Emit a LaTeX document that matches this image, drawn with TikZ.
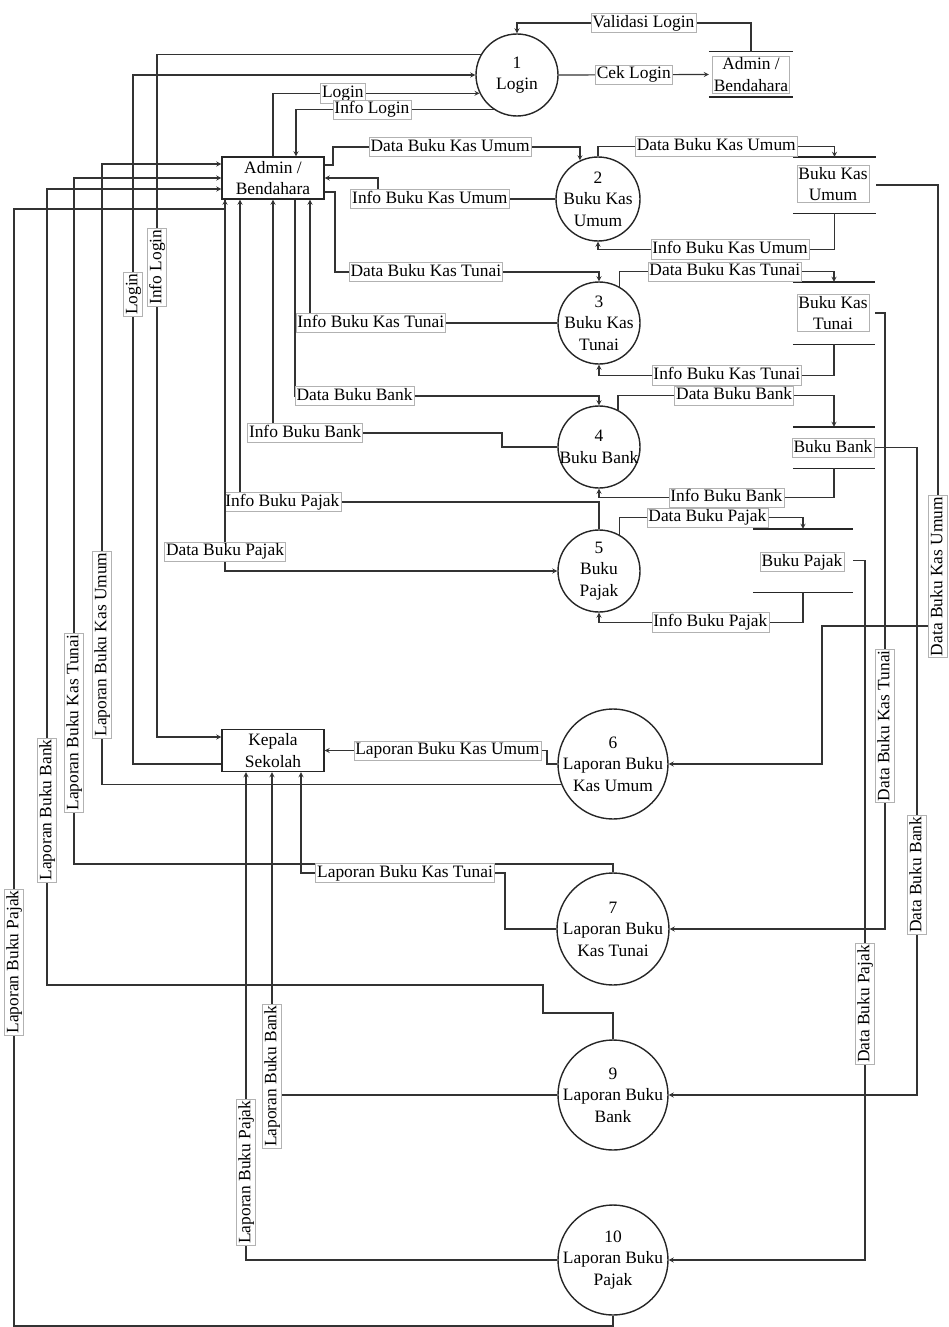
\documentclass[tikz,border=0pt]{standalone}
\usepackage{fontspec}
\setmainfont{Liberation Serif}
\usepackage{tikz}
\usetikzlibrary{shapes.geometric, arrows, positioning, calc}

\begin{document}
\begin{tikzpicture}[x=1pt, y=-1pt,
    font=\fontsize{17.4}{21.5}\selectfont,
    proc/.style={circle, draw=black!85, line width=1.4pt, fill=white, align=center, inner sep=-8pt, minimum size=#1},
    ent/.style={rectangle, draw=black!85, line width=1.4pt, fill=white, align=center, minimum width=102, minimum height=42, inner sep=0pt},
    store/.style={rectangle, inner sep=0pt},
    lbl/.style={fill=white, draw=black!30, line width=0.5pt, inner sep=1.5pt},
    fl/.style={lbl, text height=12.3pt, text depth=3.8pt},
    vfl/.style={fl, rotate=90},
    flow/.style={->, >=stealth, line width=1.2pt, draw=black!80}
]
    \useasboundingbox (0,0) rectangle (948,1327);

    % external entities
    \node[ent] (Adm) at (273,178) {Admin /\\Bendahara};
    \node[ent] (Kep) at (273,750.5) {Kepala\\Sekolah};

    % processes
    \node[proc=82] (P1) at (517,75) {1\\Login};
    \node[proc=84] (P2) at (598,199) {2\\Buku Kas\\Umum};
    \node[proc=82] (P3) at (599,323) {3\\Buku Kas\\Tunai};
    \node[proc=82] (P4) at (599,447) {4\\Buku Bank};
    \node[proc=82] (P5) at (599,571) {5\\Buku\\Pajak};
    \node[proc=110] (P6) at (613,764) {6\\Laporan Buku\\Kas Umum};
    \node[proc=112] (P7) at (613,929) {7\\Laporan Buku\\Kas Tunai};
    \node[proc=110] (P9) at (613,1095) {9\\Laporan Buku\\Bank};
    \node[proc=110] (P10) at (613,1260) {10\\Laporan Buku\\Pajak};

    % data stores
    \node[store, minimum width=84, minimum height=45] (stA) at (751,74.5) {};
    \node[store, minimum width=83, minimum height=56] (stKU) at (834.5,185) {};
    \node[store, minimum width=82, minimum height=62] (stKT) at (834,313) {};
    \node[store, minimum width=82, minimum height=41] (stBB) at (834,447.5) {};
    \node[store, minimum width=100, minimum height=63] (stBP) at (803,560.5) {};
    \foreach \s in {stA, stKU, stKT, stBB, stBP}
        \draw[line width=1.4pt, black!85] (\s.north west) -- (\s.north east) (\s.south west) -- (\s.south east);
    \node[lbl, align=center] (tA) at (stA) {Admin /\\Bendahara};
    \node[lbl, align=center] (tKU) at (833,184) {Buku Kas\\Umum};
    \node[lbl, align=center] (tKT) at (833,313) {Buku Kas\\Tunai};
    \node[fl] (tBB) at (833,448) {Buku Bank};
    \node[fl] (tBP) at (802,562) {Buku Pajak};

    % login
    \draw[flow] (stA.north) -- (751,23) -| node[fl, pos=0.23] {Validasi Login} (P1.north);
    \draw[flow] (P1.east) -- node[fl] {Cek Login} (stA.west);
    \draw[flow] ($(Kep.west)+(0,13.5)$) -- (133,764) |- node[vfl, pos=0.341] {Login} (P1.west);
    \draw[flow] (P1.150) -| node[vfl, pos=0.656] {Info Login} (157,737) -- ($(Kep.west)+(0,-13.5)$);
    \draw[flow] (Adm.north) |- node[fl, pos=0.669] {Login} (P1.206);
    \draw[flow] (P1.236) -| node[fl, pos=0.308] {Info Login} ($(Adm.north)+(23,0)$);

    % admin to processes
    \draw[flow] ($(Adm.east)+(0,-13)$) -| (333,147) -| node[fl, pos=0.237] {Data Buku Kas Umum} (P2.115);
    \draw[flow] (P2.west) -| node[fl, pos=0.354] {Info Buku Kas Umum} (378,178) -- (Adm.east);
    \draw[flow] ($(Adm.east)+(0,14)$) -| (335,272) -| node[fl, pos=0.172] {Data Buku Kas Tunai} (P3.north);
    \draw[flow] (P3.west) -| node[fl, pos=0.377] {Info Buku Kas Tunai} ($(Adm.south)+(37,0)$);
    \draw[flow] ($(Adm.south)+(22,0)$) |- node[fl, pos=0.598] {Data Buku Bank} (599,396) -- (P4.north);
    \draw[flow] (P4.west) -| (502,433) -| node[fl, pos=0.43] {Info Buku Bank} (Adm.south);
    \draw[flow] (P5.north) -- (599,502) -| node[fl, pos=0.441] {Info Buku Pajak} ($(Adm.south)+(-33,0)$);
    \draw[flow] ($(Adm.south)+(-48,0)$) |- node[fl, pos=0.474] {Data Buku Pajak} (P5.west);

    % reports to admin
    \draw[flow] (P6.202) -| node[vfl, pos=0.613] {Laporan Buku Kas Umum} (102,164) -- ($(Adm.west)+(0,-14)$);
    \draw[flow] (P7.north) -- (613,864) -| node[vfl, pos=0.603] {Laporan Buku Kas Tunai} (74,178) -- (Adm.west);
    \draw[flow] (P9.north) -- (613,1013) -| (543,985) -| node[vfl, pos=0.61] {Laporan Buku Bank} (47,189) -- ($(Adm.west)+(0,11)$);
    \draw[flow] (P10.south) -- (613,1326) -| node[vfl, pos=0.663] {Laporan Buku Pajak} (14,209) -| ($(Adm.south)+(-48,0)$);

    % reports to kepala sekolah
    \draw[flow] (P6.west) -| (547,750.5) -- node[fl, pos=0.448] {Laporan Buku Kas Umum} (Kep.east);
    \draw[flow] (P7.west) -| (505,873) -| node[fl, pos=0.245] {Laporan Buku Kas Tunai} ($(Kep.south)+(28,0)$);
    \draw[flow] (P9.west) -| node[vfl, pos=0.529] {Laporan Buku Bank} ($(Kep.south)+(-1,0)$);
    \draw[flow] (P10.west) -| node[vfl, pos=0.59] {Laporan Buku Pajak} ($(Kep.south)+(-27,0)$);

    % stores to reports
    \draw[flow] (stKU.east) -| node[vfl, pos=0.944] {Data Buku Kas Umum} (938,626) -| (822,764) -- (P6.east);
    \draw[flow] (stKT.east) -| node[vfl, pos=0.835] {Data Buku Kas Tunai} (885,929) -- (P7.east);
    \draw[flow] (stBB.east) -| node[vfl, pos=0.83] {Data Buku Bank} (917,1095) -- (P9.east);
    \draw[flow] (stBP.east) -| node[vfl, pos=0.817] {Data Buku Pajak} (865,1260) -- (P10.east);

    % processes and stores
    \draw[flow] (P2.north) -- ++(0,-10) -| node[fl, pos=0.25] {Data Buku Kas Umum} (stKU.north);
    \draw[flow] (stKU.south) -- ++(0,36) -| node[fl, pos=0.221] {Info Buku Kas Umum} (P2.south);
    \draw[flow] (P3.60) -- ++(0,-15.5) -| node[fl, pos=0.245] {Data Buku Kas Tunai} (stKT.north);
    \draw[flow] (stKT.south) -- ++(0,31) -| node[fl, pos=0.228] {Info Buku Kas Tunai} (P3.south);
    \draw[flow] (P4.63) -- ++(0,-14.5) -| node[fl, pos=0.269] {Data Buku Bank} (stBB.north);
    \draw[flow] (stBB.south) -- ++(0,29.5) -| node[fl, pos=0.229] {Info Buku Bank} (P4.south);
    \draw[flow] (P5.60) -- ++(0,-17.5) -| node[fl, pos=0.239] {Data Buku Pajak} (stBP.north);
    \draw[flow] (stBP.south) -- ++(0,30) -| node[fl, pos=0.227] {Info Buku Pajak} (P5.south);
\end{tikzpicture}
\end{document}
